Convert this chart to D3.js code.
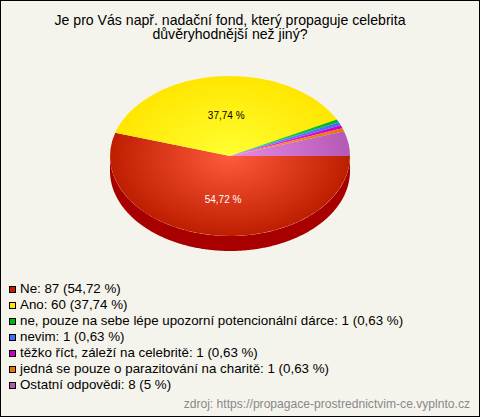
<!DOCTYPE html>
<html><head><meta charset="utf-8">
<script src="https://cdn.jsdelivr.net/npm/d3@7/dist/d3.min.js"></script>
<style>html,body{margin:0;padding:0;background:#f5f4ec}svg{display:block}text{font-family:"Liberation Sans",Arial,sans-serif}</style>
</head><body><svg id="c" width="480" height="417"></svg>
<script>
const titleLines=["Je pro Vás např. nadační fond, který propaguje celebrita","důvěryhodnější než jiný?"];
const categories=["Ne","Ano","ne, pouze na sebe lépe upozorní potencionální dárce","nevim","těžko říct, záleží na celebritě","jedná se pouze o parazitování na charitě","Ostatní odpovědi"];
const counts=[87,60,1,1,1,1,8];
const percents=["54,72","37,74","0,63","0,63","0,63","0,63","5"];
const legendColors=["#c32000","#ffe600","#00b414","#3c6eff","#c800c8","#e67800","#b45ab4"];
const centerColors=["#ff5a3c","#ffff32","#32e650","#6496ff","#ff32ff","#ff9628","#e68ce6"];
const edgeColors=["#be1e00","#ffe600","#00b414","#3c6eff","#c800c8","#e67800","#b45ab4"];
const sideColor="#a80000";
const source="zdroj: https://propagace-prostrednictvim-ce.vyplnto.cz";

const W=480,H=417,cx=230,cy=156,R=120,squash=2/3,depth=15;
const svg=d3.select("#c");
svg.append("rect").attr("x",.5).attr("y",.5).attr("width",W-1).attr("height",H-1).attr("fill","#f5f4ec").attr("stroke","#000");

svg.selectAll("text.title").data(titleLines).join("text").attr("class","title")
 .attr("x",230).attr("y",(d,i)=>25+i*14).attr("text-anchor","middle").attr("font-size",14.1).attr("fill","#000").text(d=>d);

const pie=d3.pie().sort(null).startAngle(Math.PI/2).endAngle(Math.PI*2.5)(counts);
const arc=d3.arc().innerRadius(0).outerRadius(R);
const defs=svg.append("defs");
categories.forEach((c,i)=>{
 const g=defs.append("radialGradient").attr("id","g"+i).attr("gradientUnits","userSpaceOnUse").attr("cx",0).attr("cy",0).attr("r",R);
 g.append("stop").attr("offset",0).attr("stop-color",centerColors[i]);
 g.append("stop").attr("offset",1).attr("stop-color",edgeColors[i]);
});
const angleX=a=>Math.sin(a)*R, angleY=a=>-Math.cos(a)*R*squash;
const sideAngles=d3.range(Math.PI/2,Math.PI*1.5+0.001,0.01);
const area=d3.area().x(a=>cx+angleX(a)).y0(a=>cy+angleY(a)).y1(a=>cy+angleY(a)+depth);
svg.append("path").attr("d",area(sideAngles)).attr("fill",sideColor);

const pieG=svg.append("g").attr("transform",`translate(${cx},${cy}) scale(1,${squash})`);
pieG.selectAll("path").data(pie).join("path").attr("d",arc).attr("fill",(d,i)=>`url(#g${i})`);

const labelAt=[{i:0,color:"#fff"},{i:1,color:"#000"}];
const mid=d=>(pie[d.i].startAngle+pie[d.i].endAngle)/2;
svg.selectAll("text.pl").data(labelAt).join("text").attr("class","pl")
 .attr("x",d=>cx+1+angleX(mid(d))*0.45)
 .attr("y",d=>cy+5+angleY(mid(d))*0.53)
 .attr("text-anchor","middle").attr("font-size",10).attr("fill",d=>d.color)
 .text(d=>percents[d.i]+" %");

const leg=svg.selectAll("g.l").data(categories).join("g").attr("class","l").attr("transform",(d,i)=>`translate(0,${293+i*16})`);
leg.append("rect").attr("x",9.5).attr("y",-6.5).attr("width",6).attr("height",6).attr("fill",(d,i)=>legendColors[i]).attr("stroke","#000").attr("stroke-width",1);
leg.append("text").attr("x",20).attr("y",0).attr("font-size",13.33).attr("fill","#000").text((d,i)=>`${d}: ${counts[i]} (${percents[i]} %)`);

svg.append("text").attr("x",470).attr("y",408).attr("text-anchor","end").attr("font-size",12.1).attr("fill","#888").text(source);
</script></body></html>
